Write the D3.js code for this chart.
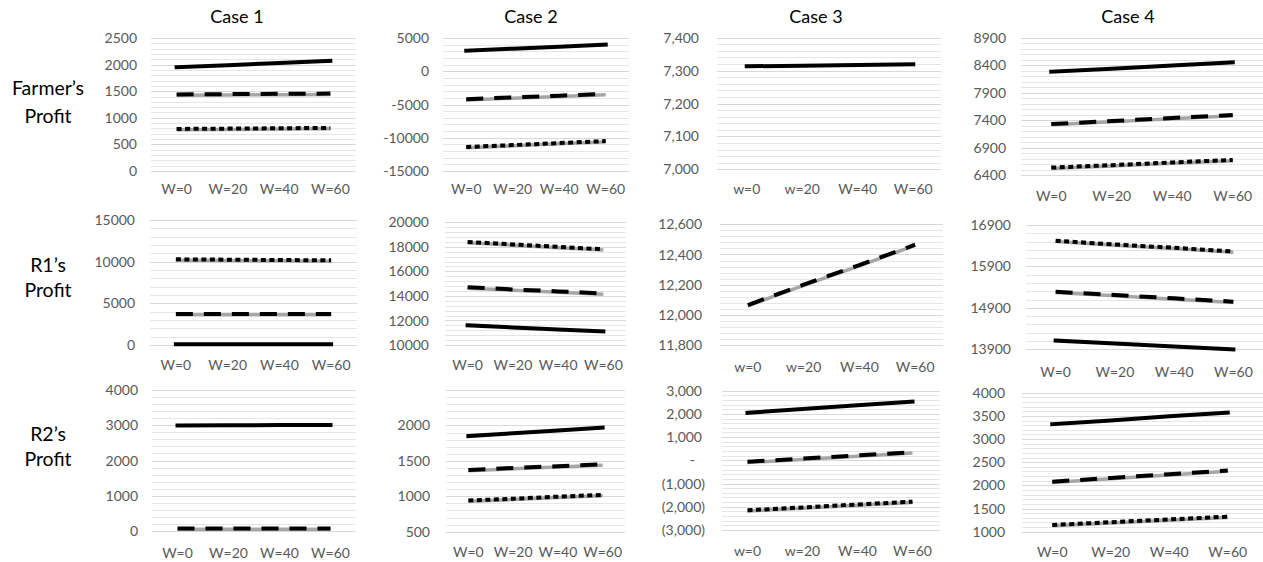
<!DOCTYPE html>
<html><head><meta charset="utf-8">
<script src="https://cdn.jsdelivr.net/npm/d3@7"></script>
<style>body{margin:0;background:#fff} svg{display:block}</style>
</head><body><svg id="chart" width="1263" height="562"></svg>
<script>
// ---------- DATA ----------
const categories = ["W=0", "W=20", "W=40", "W=60"];
const categoriesCase3 = ["w=0", "w=20", "W=40", "W=60"];
const caseTitles = ["Case 1", "Case 2", "Case 3", "Case 4"];
const rowTitles = [["Farmer’s", "Profit"], ["R1’s", "Profit"], ["R2’s", "Profit"]];

// Farmer's profit (per case: 4 values, null = no visible line)
const farmerSolid  = [[1950, 1990, 2030, 2070], [3100, 3400, 3700, 4000], [7313, 7315, 7317, 7319], [8285, 8340, 8400, 8455]];
const farmerDashed = [[1440, 1445, 1450, 1455], [-4200, -3930, -3670, -3400], null, [7330, 7385, 7440, 7495]];
const farmerDotted = [[790, 797, 803, 810], [-11400, -11100, -10800, -10500], null, [6535, 6580, 6630, 6675]];

// R1's profit
const r1Solid  = [[80, 80, 80, 80], [11600, 11430, 11270, 11100], null, [14110, 14040, 13970, 13900]];
const r1Dashed = [[3720, 3720, 3720, 3720], [14700, 14530, 14370, 14200], [12065, 12200, 12330, 12465], [15290, 15210, 15130, 15050]];
const r1Dotted = [[10280, 10240, 10200, 10160], [18400, 18200, 18000, 17800], null, [16520, 16430, 16350, 16260]];

// R2's profit
const r2Solid  = [[2990, 3000, 3005, 3010], [1850, 1890, 1930, 1970], [2050, 2210, 2370, 2530], [3320, 3400, 3490, 3570]];
const r2Dashed = [[70, 70, 70, 70], [1370, 1400, 1425, 1450], [-60, 75, 215, 350], [2080, 2160, 2240, 2320]];
const r2Dotted = [null, [940, 965, 995, 1020], [-2150, -2030, -1900, -1780], [1145, 1205, 1265, 1325]];

// Axis ticks (major) and their labels
const farmerTicks = [[0, 500, 1000, 1500, 2000, 2500], [-15000, -10000, -5000, 0, 5000], [7000, 7100, 7200, 7300, 7400], [6400, 6900, 7400, 7900, 8400, 8900]];
const farmerTickLabels = [["0", "500", "1000", "1500", "2000", "2500"], ["-15000", "-10000", "-5000", "0", "5000"], ["7,000", "7,100", "7,200", "7,300", "7,400"], ["6400", "6900", "7400", "7900", "8400", "8900"]];
const r1Ticks = [[0, 5000, 10000, 15000], [10000, 12000, 14000, 16000, 18000, 20000], [11800, 12000, 12200, 12400, 12600], [13900, 14900, 15900, 16900]];
const r1TickLabels = [["0", "5000", "10000", "15000"], ["10000", "12000", "14000", "16000", "18000", "20000"], ["11,800", "12,000", "12,200", "12,400", "12,600"], ["13900", "14900", "15900", "16900"]];
const r2Ticks = [[0, 1000, 2000, 3000, 4000], [500, 1000, 1500, 2000, 2500], [-3000, -2000, -1000, 0, 1000, 2000, 3000], [1000, 1500, 2000, 2500, 3000, 3500, 4000]];
const r2TickLabels = [["0", "1000", "2000", "3000", "4000"], ["500", "1000", "1500", "2000", ""], ["(3,000)", "(2,000)", "(1,000)", "-", "1,000", "2,000", "3,000"], ["1000", "1500", "2000", "2500", "3000", "3500", "4000"]];

// ---------- LAYOUT ----------
// [gridLeft, gridRight, bandLeft, bandRight, yBottom, yTop, tickRight, xLabelY]
const layout = [
  [[151, 356, 151, 356, 171, 38, 137, 189], [443, 629, 443, 629, 171, 38, 429, 189], [717, 941, 719, 941, 169.3, 37.7, 699, 189], [1021, 1263, 1021, 1263, 175, 38, 1006, 196]],
  [[150, 357, 150, 357, 345, 220, 135, 365], [445, 626, 445, 626, 345, 222.3, 429, 365], [720, 943, 720, 943, 345, 224.3, 702, 367], [1026, 1263, 1026, 1263, 349.3, 225, 1011, 372]],
  [[152, 356, 152, 356, 531, 390, 138, 553], [446, 625, 446, 625, 531.7, 390, 430, 552], [722, 940, 720, 940, 530, 390.7, 705, 551], [1022, 1263, 1023, 1257, 531.7, 392.7, 1005, 552]]
];
const titleX = [237, 531, 816, 1128];
const rowLabelY = [[95, 122.5], [271.5, 296.5], [441, 466]];

const rows = [
  {solid: farmerSolid, dashed: farmerDashed, dotted: farmerDotted, ticks: farmerTicks, labels: farmerTickLabels},
  {solid: r1Solid, dashed: r1Dashed, dotted: r1Dotted, ticks: r1Ticks, labels: r1TickLabels},
  {solid: r2Solid, dashed: r2Dashed, dotted: r2Dotted, ticks: r2Ticks, labels: r2TickLabels}
];

const FONT = "Lato, 'Open Sans', sans-serif";
const svg = d3.select("#chart");

// Titles
svg.selectAll("text.title").data(caseTitles).join("text")
  .attr("class", "title")
  .attr("x", (d, i) => titleX[i]).attr("y", 23)
  .attr("text-anchor", "middle")
  .style("font-family", FONT).style("font-size", "18px").attr("fill", "#000")
  .text(d => d);

// Row labels
rowTitles.forEach((lines, r) => {
  lines.forEach((t, k) => {
    svg.append("text").attr("x", 48).attr("y", rowLabelY[r][k])
      .attr("text-anchor", "middle")
      .style("font-family", FONT).style("font-size", "19.5px").attr("fill", "#000")
      .text(t);
  });
});

rows.forEach((row, r) => {
  for (let c = 0; c < 4; c++) {
    const L = layout[r][c];
    const ticks = row.ticks[c];
    const tlabels = row.labels[c];
    const ymin = d3.min(ticks), ymax = d3.max(ticks);
    const step = ticks[1] - ticks[0];
    const y = d3.scaleLinear().domain([ymin, ymax]).range([L[4], L[5]]);
    const cats = c === 2 ? categoriesCase3 : categories;
    const x = d3.scaleBand().domain(cats).range([L[2], L[3]]);
    const cx = d => x(d) + x.bandwidth() / 2;
    const g = svg.append("g");

    // minor gridlines
    const minor = d3.range(0, Math.round((ymax - ymin) / (step / 5)) + 1)
      .map(k => ymin + k * step / 5)
      .filter((v, k) => k % 5 !== 0);
    g.selectAll("line.minor").data(minor).join("line")
      .attr("x1", L[0]).attr("x2", L[1])
      .attr("y1", d => Math.round(y(d)) + 0.5).attr("y2", d => Math.round(y(d)) + 0.5)
      .attr("stroke", "#e6e6e6").attr("stroke-width", 1);
    // major gridlines
    g.selectAll("line.major").data(ticks).join("line")
      .attr("x1", L[0]).attr("x2", L[1])
      .attr("y1", d => Math.round(y(d)) + 0.5).attr("y2", d => Math.round(y(d)) + 0.5)
      .attr("stroke", "#d9d9d9").attr("stroke-width", 1);

    // tick labels
    g.selectAll("text.tick").data(ticks).join("text")
      .attr("x", (d, i) => {
        if (c === 2 && r === 2) {
          const s = tlabels[i];
          if (s === "-") return L[6] - 10;
          if (s[0] !== "(") return L[6] - 3;
        }
        return L[6];
      })
      .attr("y", d => y(d)).attr("dy", "0.36em")
      .attr("text-anchor", "end")
      .style("font-family", FONT).style("font-size", "14px").attr("fill", "#595959")
      .text((d, i) => tlabels[i]);

    // x labels
    g.selectAll("text.xl").data(cats).join("text")
      .attr("x", d => cx(d)).attr("y", L[7]).attr("dy", "0.36em")
      .attr("text-anchor", "middle")
      .style("font-family", FONT).style("font-size", "14px").attr("fill", "#595959")
      .text(d => d);

    const line = d3.line().x((d, i) => cx(cats[i])).y(d => y(d));

    const series = [
      {vals: row.dotted[c], dash: "5,3.5"},
      {vals: row.dashed[c], dash: "17,11"},
      {vals: row.solid[c], dash: null}
    ];
    series.forEach(s => {
      if (!s.vals) return;
      if (s.dash) {
        g.append("path").datum(s.vals).attr("d", line)
          .attr("fill", "none").attr("stroke", "#a6a6a6").attr("stroke-width", 3.5)
          .attr("transform", "translate(0,0.8)");
      }
      g.append("path").datum(s.vals).attr("d", line)
        .attr("fill", "none").attr("stroke", "#000").attr("stroke-width", 4)
        .attr("stroke-linecap", s.dash ? "butt" : "square")
        .attr("stroke-dasharray", s.dash);
    });
  }
});
</script>
</body></html>
